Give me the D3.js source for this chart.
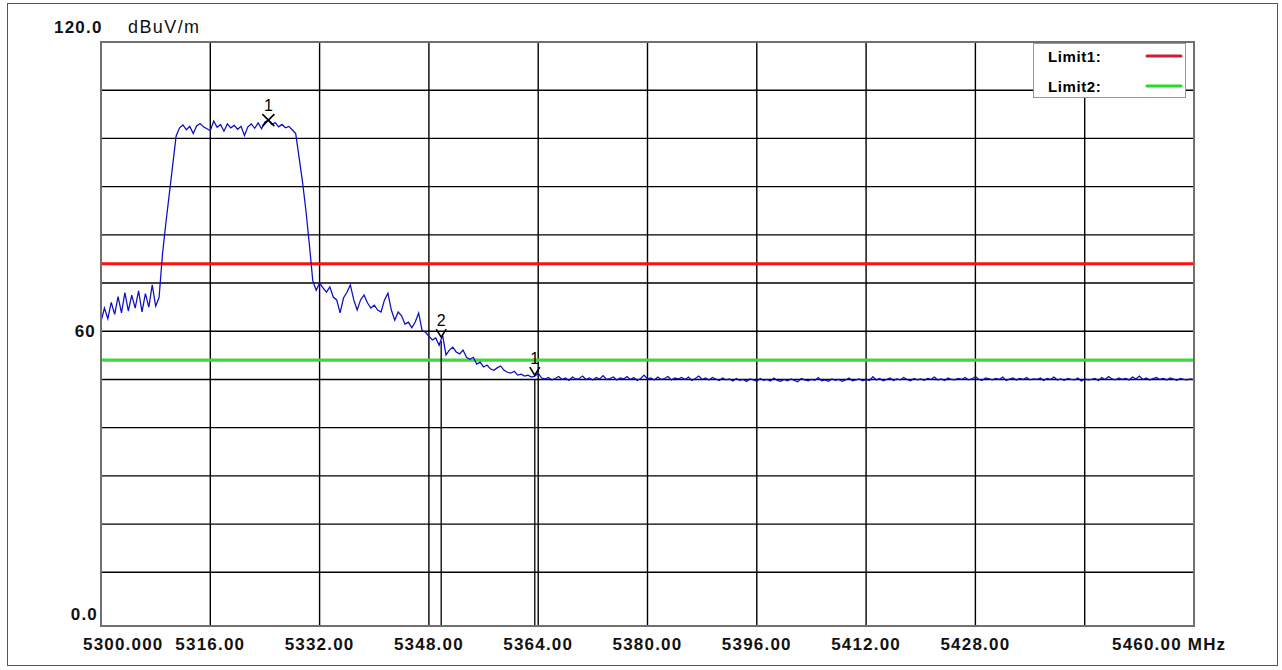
<!DOCTYPE html>
<html><head><meta charset="utf-8">
<script src="https://cdn.jsdelivr.net/npm/d3@7/dist/d3.min.js"></script>
<style>body{margin:0;background:#fff}svg{display:block}</style>
</head><body>
<svg id="c" width="1282" height="670"></svg>
<script>
// ---- data ----
const freqStart = 5300, freqStep = 0.5;   // sweep grid, MHz
const levels = [
  // 5300 - 5308.5
  62.0,64.8,62.6,66.0,63.5,67.2,63.8,68.0,64.2,67.5,64.8,68.4,64.0,67.8,65.0,69.6,65.2,67.0,
  // 5309 - 5311 rise
  76.0,82.5,88.5,94.5,100.5,
  // 5311.5 - 5328.5 plateau
  102.2,102.8,101.8,102.5,101.0,102.6,103.1,102.4,102.0,101.6,103.6,102.3,102.9,101.5,103.0,102.2,102.7,101.9,
  102.5,100.6,102.4,103.0,102.1,103.2,102.0,103.4,103.8,102.9,103.3,102.4,102.9,102.2,102.5,101.8,101.0,
  // 5329 - 5331 fall
  96.0,91.0,85.0,78.0,70.5,
  // 5331.5 - 5365 decline
  68.5,70.0,69.0,68.1,69.2,67.1,66.5,63.8,66.9,68.1,69.6,66.5,64.4,66.5,67.5,65.9,64.8,65.4,64.4,64.0,
  66.5,67.9,64.4,62.3,64.0,63.2,61.5,61.9,60.7,61.9,63.8,60.2,59.8,59.0,58.2,58.6,57.1,59.2,55.1,56.1,
  56.7,55.7,55.3,56.1,54.6,54.2,54.6,53.2,53.6,52.6,53.0,52.2,51.9,52.4,52.8,51.9,51.5,51.3,51.7,50.9,
  51.1,50.7,50.9,50.5,50.7,51.3,50.3,50.1,
  // 5365.5 - 5460 floor
  50.4,49.9,50.2,50.6,50.0,50.3,49.8,50.5,50.1,50.2,
  50.7,50.0,50.3,49.9,50.4,50.1,50.8,50.0,50.2,50.5,
  49.9,50.3,50.1,50.6,50.0,50.4,49.8,50.2,50.9,50.1,
  50.3,49.9,50.5,50.0,50.2,50.6,49.9,50.3,50.1,50.4,
  50.0,50.5,49.8,50.2,50.7,50.0,50.3,49.9,50.4,50.1,
  49.8,50.3,49.9,50.1,49.7,50.2,49.8,50.0,49.6,50.1,
  49.9,49.6,50.2,49.8,50.0,49.7,50.3,49.8,49.6,50.0,
  49.7,50.1,49.8,49.5,50.2,49.9,49.7,50.0,49.8,50.4,
  49.7,49.9,49.6,50.1,49.8,50.0,49.6,49.9,50.3,49.7,
  49.9,50.1,49.7,50.0,49.8,50.6,49.9,50.2,49.7,50.0,
  50.3,49.8,50.1,49.9,50.4,50.0,49.7,50.2,49.9,50.1,
  49.8,50.2,50.0,50.5,49.9,50.1,49.8,50.3,50.0,49.9,
  50.2,50.0,50.4,49.9,50.1,50.6,50.0,49.8,50.3,50.1,
  49.9,50.2,50.0,50.5,49.8,50.1,50.3,49.9,50.2,50.0,
  50.4,49.9,50.1,50.0,50.3,49.8,50.2,50.0,50.5,49.9,
  50.1,49.8,50.2,50.0,49.9,50.3,49.7,50.1,49.9,50.0,
  50.2,49.8,50.4,50.0,50.6,50.1,49.9,50.3,50.0,50.2,
  49.9,50.5,50.1,50.7,50.0,50.3,49.9,50.2,50.4,50.0,
  50.2,49.9,50.3,50.1,49.8,50.2,50.0,49.9,50.1,49.9
];
const xTicks = [5300,5316,5332,5348,5364,5380,5396,5412,5428,5444,5460];
const xTickLabels = ["5300.000","5316.00","5332.00","5348.00","5364.00","5380.00","5396.00","5412.00","5428.00","","5460.00 MHz"];
const yTicks = [10,20,30,40,50,60,70,80,90,100,110];
const yTickLabels = [[120,"120.0"],[60,"60"],[0,"0.0"]];
const limitNames = ["Limit1:","Limit2:"];
const limitValues = [74,54];
const limitColors = ["#ff1010","#3ed83e"];
const legendColors = ["#cc2038","#22dd22"];
const markerLabels = ["1","2","1"];
const markerFreqs = [5324.5,5349.8,5363.5];
const markerLevels = [103.8,59.2,51.3];

// ---- drawing ----
const svg = d3.select("#c");
const L=101,R=1194,T=42,B=626;
const x = d3.scaleLinear().domain([5300,5460]).range([L,R]);
const y = d3.scaleLinear().domain([0,120]).range([620.5,T]);
const font = "'Liberation Sans', Arial, sans-serif";

svg.append("rect").attr("x",7.5).attr("y",3.5).attr("width",1270).attr("height",662)
  .attr("fill","#fff").attr("stroke","#555").attr("stroke-width",1);

const g = svg.append("g");
// grid
g.selectAll(".vg").data(xTicks.slice(1,-1)).enter().append("line")
  .attr("x1",d=>x(d)).attr("x2",d=>x(d)).attr("y1",T).attr("y2",B)
  .attr("stroke","#000").attr("stroke-width",1.4);
g.selectAll(".hg").data(yTicks).enter().append("line")
  .attr("x1",L).attr("x2",R).attr("y1",d=>y(d)).attr("y2",d=>y(d))
  .attr("stroke","#000").attr("stroke-width",1.4);

// limit lines
g.selectAll(".lim").data(limitValues).enter().append("line")
  .attr("x1",L).attr("x2",R).attr("y1",d=>y(d)).attr("y2",d=>y(d))
  .attr("stroke",(d,i)=>limitColors[i]).attr("stroke-width",3.2);

// marker vertical lines (markers 2 and 3)
g.selectAll(".ml").data(markerFreqs.slice(1)).enter().append("line")
  .attr("x1",d=>x(d)).attr("x2",d=>x(d))
  .attr("y1",(d,i)=>y(markerLevels[i+1])+6).attr("y2",B)
  .attr("stroke","#000").attr("stroke-width",1.3);

// trace
const line = d3.line().x((d,i)=>x(freqStart+i*freqStep)).y(d=>y(d));
g.append("path").datum(levels).attr("d",line)
  .attr("fill","none").attr("stroke","#0c0cc4").attr("stroke-width",1.25);

// markers
markerFreqs.forEach((f,i)=>{
  const mx=x(f), my=y(markerLevels[i]);
  if(i===0){
    g.append("path").attr("d",`M${mx-6},${my-6}L${mx+6},${my+6}M${mx+6},${my-6}L${mx-6},${my+6}`)
      .attr("stroke","#000").attr("stroke-width",1.6).attr("fill","none");
  } else {
    g.append("path").attr("d",`M${mx-5},${my-6}L${mx},${my+2}L${mx+5},${my-6}`)
      .attr("stroke","#000").attr("stroke-width",1.6).attr("fill","none");
  }
  g.append("text").attr("x",mx).attr("y",my-9).attr("text-anchor","middle")
    .attr("font-family",font).attr("font-size",16).text(markerLabels[i]);
});

// frame
svg.append("rect").attr("x",L).attr("y",T).attr("width",R-L).attr("height",B-T)
  .attr("fill","none").attr("stroke","#707070").attr("stroke-width",2);

// legend
const lg = svg.append("g");
lg.append("rect").attr("x",1033.5).attr("y",43.5).attr("width",152).attr("height",54)
  .attr("fill","#fff").attr("stroke","#999").attr("stroke-width",1);
limitNames.forEach((n,i)=>{
  const ly = 56 + i*30;
  lg.append("text").attr("x",1048).attr("y",ly+6).attr("font-family",font)
    .attr("font-weight","bold").attr("font-size",15).attr("letter-spacing",0.6).text(n);
  lg.append("line").attr("x1",1147).attr("x2",1181).attr("y1",ly).attr("y2",ly)
    .attr("stroke",legendColors[i]).attr("stroke-width",3).attr("stroke-linecap","round");
});

// x tick labels
xTicks.forEach((t,i)=>{
  if(!xTickLabels[i]) return;
  const txt = svg.append("text").attr("y",650).attr("font-family",font)
    .attr("font-weight","bold").attr("font-size",17).attr("letter-spacing",1.2)
    .attr("fill","#111").text(xTickLabels[i]);
  if(i===0) txt.attr("x",83);
  else if(i===xTicks.length-1) txt.attr("x",1112);
  else txt.attr("x",x(t)).attr("text-anchor","middle");
});

// y labels
yTickLabels.forEach(([v,lab])=>{
  const t = svg.append("text").attr("font-family",font).attr("font-weight","bold")
    .attr("font-size",17).attr("letter-spacing",1.2).attr("fill","#111").text(lab);
  if(v===120) t.attr("x",54).attr("y",y(v)-9);
  else if(v===0) t.attr("x",98).attr("y",y(v)-1).attr("text-anchor","end");
  else t.attr("x",96).attr("y",y(v)+6).attr("text-anchor","end");
});
svg.append("text").attr("x",128).attr("y",y(120)-9).attr("font-family",font)
  .attr("font-size",18).attr("letter-spacing",1.4).attr("fill","#111").text("dBuV/m");
</script>
</body></html>
